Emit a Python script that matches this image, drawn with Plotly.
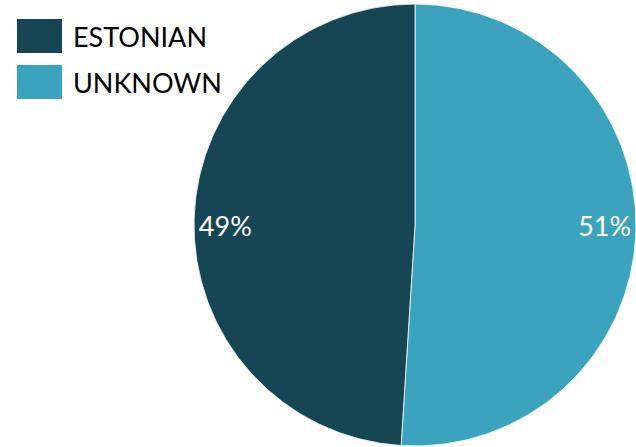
import plotly.graph_objects as go

labels = ["ESTONIAN", "UNKNOWN"]
values = [49, 51]
colors = ["#164654", "#3CA3BF"]

W, H = 636, 447
dom = dict(x=[194 / W, 1], y=[1 - 446 / H, 1 - 4 / H])
# slices drawn clockwise from 12 o'clock starting with UNKNOWN
p_labels = labels[::-1]
p_values = values[::-1]
p_colors = colors[::-1]

fig = go.Figure()
fig.add_trace(go.Pie(
    labels=p_labels, values=p_values, sort=False, direction="clockwise", rotation=0,
    marker=dict(colors=p_colors, line=dict(color="white", width=0.8)),
    textinfo="none", domain=dom, showlegend=False, hoverinfo="label+percent",
))
# text layer: transparent ring so percentages sit near the rim
fig.add_trace(go.Pie(
    labels=p_labels, values=p_values, sort=False, direction="clockwise", rotation=0,
    hole=0.72,
    marker=dict(colors=["rgba(0,0,0,0)"] * 2, line=dict(width=0)),
    textinfo="percent", textposition="inside", insidetextorientation="horizontal",
    texttemplate="%{percent:.0%}",
    textfont=dict(color="white", size=27, family="Lato"),
    domain=dom, showlegend=False, hoverinfo="skip",
))

# legend drawn manually
for i, (lab, col) in enumerate(zip(labels, colors)):
    y0 = 19 + i * 46
    fig.add_shape(type="rect", xref="paper", yref="paper",
                  x0=17 / W, x1=62 / W, y0=1 - (y0 + 34) / H, y1=1 - y0 / H,
                  fillcolor=col, line=dict(width=0))
    fig.add_annotation(xref="paper", yref="paper", x=71 / W, y=1 - (y0 + 17) / H,
                       xanchor="left", yanchor="middle", text=lab, showarrow=False,
                       font=dict(size=27, color="black", family="Lato"))

fig.update_layout(width=W, height=H, margin=dict(l=0, r=0, t=0, b=0),
                  paper_bgcolor="white", plot_bgcolor="white")
fig.write_html("out.html", config={"displayModeBar": False},
               post_script="document.body.style.margin='0';")
